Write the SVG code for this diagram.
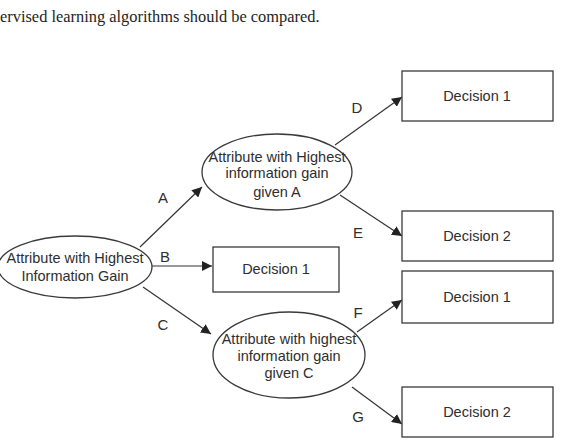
<svg xmlns="http://www.w3.org/2000/svg" width="568" height="441" viewBox="0 0 568 441">
<style>
.n{fill:#fff;stroke:#3a3a3a;stroke-width:1.3}
.t{font-family:"Liberation Sans",Arial,sans-serif;font-size:14.5px;fill:#2e2e2e;text-anchor:middle}
.c{stroke:#333;stroke-width:1.2;fill:none;marker-end:url(#ah)}
.l{font-family:"Liberation Sans",Arial,sans-serif;font-size:15px;fill:#2e2e2e;text-anchor:middle}
</style>
<defs>
<marker id="ah" viewBox="0 0 10 10" refX="10" refY="5" markerWidth="10" markerHeight="10" markerUnits="userSpaceOnUse" orient="auto">
<path d="M0,0 L10,5 L0,10 z" fill="#222"/>
</marker>
</defs>
<rect width="568" height="441" fill="#fff"/>
<text x="0" y="22" style="font-family:'Liberation Serif','Times New Roman',serif;font-size:16.4px;fill:#1e1e1e">ervised learning algorithms should be compared.</text>

<g id="connectors">
<line class="c" x1="140" y1="247" x2="202" y2="187"/>
<line class="c" x1="151" y1="266" x2="212" y2="266"/>
<line class="c" x1="143" y1="287" x2="211" y2="334"/>
<line class="c" x1="335" y1="145" x2="402" y2="97"/>
<line class="c" x1="340" y1="195" x2="402" y2="236"/>
<line class="c" x1="357" y1="332" x2="402" y2="300"/>
<line class="c" x1="352" y1="387" x2="402" y2="424"/>
<text class="l" x="163" y="203">A</text>
<text class="l" x="165" y="262">B</text>
<text class="l" x="163" y="330">C</text>
<text class="l" x="357" y="113">D</text>
<text class="l" x="358" y="238">E</text>
<text class="l" x="358" y="318">F</text>
<text class="l" x="358" y="422">G</text>
</g>

<g id="root">
<ellipse class="n" cx="75" cy="267" rx="77" ry="31"/>
<text class="t" x="75" y="263">Attribute with Highest</text>
<text class="t" x="75" y="281">Information Gain</text>
</g>

<g id="attrA">
<ellipse class="n" cx="277" cy="172" rx="75" ry="38"/>
<text class="t" x="277" y="162">Attribute with Highest</text>
<text class="t" x="277" y="178">information gain</text>
<text class="t" x="277" y="197">given A</text>
</g>

<g id="attrC">
<ellipse class="n" cx="289" cy="355" rx="76" ry="43"/>
<text class="t" x="289" y="344">Attribute with highest</text>
<text class="t" x="289" y="361">information gain</text>
<text class="t" x="289" y="378">given C</text>
</g>

<g id="decB">
<rect class="n" x="213" y="247" width="126" height="45"/>
<text class="t" x="276" y="274">Decision 1</text>
</g>

<g id="decD">
<rect class="n" x="402" y="71" width="151" height="50"/>
<text class="t" x="477" y="101">Decision 1</text>
</g>

<g id="decE">
<rect class="n" x="402" y="211" width="151" height="50"/>
<text class="t" x="477" y="241">Decision 2</text>
</g>

<g id="decF">
<rect class="n" x="402" y="271" width="151" height="52"/>
<text class="t" x="477" y="302">Decision 1</text>
</g>

<g id="decG">
<rect class="n" x="402" y="387" width="151" height="50"/>
<text class="t" x="477" y="417">Decision 2</text>
</g>
</svg>
